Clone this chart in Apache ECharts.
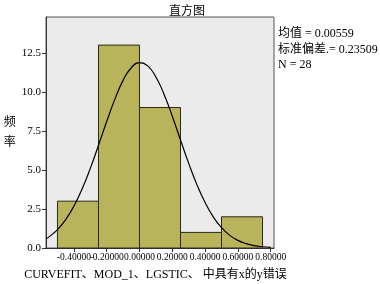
<!DOCTYPE html>
<html>
<head>
<meta charset="utf-8">
<script src="https://cdn.jsdelivr.net/npm/echarts@6/dist/echarts.min.js"></script>
<style>
  html, body { margin: 0; padding: 0; background: #fff; }
  #main { width: 380px; height: 284px; }
</style>
</head>
<body>
<div id="main"></div>
<script>
// histogram bins (left edge) and counts
const binStart = [-0.5, -0.25, 0, 0.25, 0.5]
const binWidth = 0.25
const counts = [3, 13, 9, 1, 2]

// normal curve
const curveX = [-0.57, -0.55, -0.5, -0.45, -0.4, -0.35, -0.3, -0.25, -0.2, -0.15, -0.1, -0.05, 0,
  0.05, 0.1, 0.15, 0.2, 0.25, 0.3, 0.35, 0.4, 0.45, 0.5, 0.55, 0.6, 0.65, 0.7, 0.75, 0.8]
const curveY = [0.59, 0.73, 1.18, 1.82, 2.68, 3.78, 5.1, 6.58, 8.1, 9.54, 10.74, 11.55, 11.88,
  11.67, 10.96, 9.84, 8.44, 6.92, 5.42, 4.06, 2.91, 1.99, 1.3, 0.81, 0.49, 0.28, 0.15, 0.08, 0.04]

// x tick labels are split over two axes so the crowded labels all stay visible
const xTicks = [-0.4, -0.2, 0, 0.2, 0.4, 0.6, 0.8]
const xTicksA = [-0.4, 0, 0.4, 0.8]
const xTicksB = [-0.2, 0.2, 0.6]
const yTicks = [0, 2.5, 5, 7.5, 10, 12.5]

const statLines = ['均值 = 0.00559', '标准偏差.= 0.23509', 'N = 28']

const serif = '"Liberation Serif", "Noto Sans CJK SC", serif'

var myChart = echarts.init(document.getElementById('main'))

const xLabel = (vals) => ({
  customValues: vals,
  formatter: (v) => v.toFixed(5),
  fontFamily: serif,
  fontSize: 9.5,
  color: '#000',
  margin: 5,
  hideOverlap: false,
})

let option = {
  animation: false,
  backgroundColor: '#fff',
  title: {
    text: '直方图',
    left: 164,
    top: 1,
    textStyle: {
      fontFamily: serif,
      fontSize: 12,
      fontWeight: 'normal',
      color: '#000',
    },
  },
  grid: {
    left: 46,
    right: 106,
    top: 17,
    bottom: 36,
    outerBoundsMode: 'none',
    containLabel: false,
    show: true,
    backgroundColor: '#ebebeb',
    borderColor: '#555',
    borderWidth: 1,
  },
  xAxis: [
    {
      type: 'value',
      position: 'bottom',
      min: -0.57,
      max: 0.82,
      name: 'CURVEFIT、MOD_1、LGSTIC、 中具有x的y错误',
      nameLocation: 'middle',
      nameGap: 21,
      nameTextStyle: {
        fontFamily: serif,
        fontSize: 12,
        color: '#000',
        padding: [0, 9, 0, 0],
      },
      splitLine: { show: false },
      axisLine: { onZero: false, lineStyle: { color: '#333', width: 1 } },
      axisTick: {
        show: true,
        length: 4,
        customValues: xTicks,
        lineStyle: { color: '#333' },
      },
      axisLabel: xLabel(xTicksA),
    },
    {
      type: 'value',
      position: 'bottom',
      offset: 0,
      min: -0.57,
      max: 0.82,
      splitLine: { show: false },
      axisLine: { show: false, onZero: false },
      axisTick: { show: false },
      axisLabel: xLabel(xTicksB),
    },
  ],
  yAxis: {
    type: 'value',
    min: 0,
    max: 14.8,
    name: '频\n率',
    nameLocation: 'middle',
    nameRotate: 0,
    nameGap: 30,
    nameTextStyle: {
      fontFamily: serif,
      fontSize: 12,
      color: '#000',
      lineHeight: 20,
    },
    splitLine: { show: false },
    axisLine: { show: true, onZero: false, lineStyle: { color: '#333', width: 1 } },
    axisTick: {
      show: true,
      length: 4,
      customValues: yTicks,
      lineStyle: { color: '#333' },
    },
    axisLabel: {
      customValues: yTicks,
      formatter: (v) => v.toFixed(1),
      fontFamily: serif,
      fontSize: 11,
      color: '#000',
      margin: 5,
      hideOverlap: false,
    },
  },
  graphic: statLines.map((t, i) => ({
    type: 'text',
    left: 278,
    top: 28 + i * 15.5,
    style: {
      text: t,
      fontFamily: serif,
      fontSize: 12,
      fill: '#000',
    },
  })),
  series: [
    {
      name: '频率',
      type: 'custom',
      data: binStart.map((s, i) => [s, s + binWidth, counts[i]]),
      renderItem: function (params, api) {
        const p0 = api.coord([api.value(0), 0])
        const p1 = api.coord([api.value(1), api.value(2)])
        return {
          type: 'rect',
          shape: { x: p0[0], y: p1[1], width: p1[0] - p0[0], height: p0[1] - p1[1] },
          style: { fill: '#b9b35b', stroke: '#2a2a1a', lineWidth: 1 },
        }
      },
      z: 2,
    },
    {
      name: '正态',
      type: 'line',
      data: curveX.map((x, i) => [x, curveY[i]]),
      smooth: true,
      symbol: 'none',
      lineStyle: { color: '#000', width: 1.2 },
      z: 3,
    },
  ],
}
myChart.setOption(option)
</script>
</body>
</html>
